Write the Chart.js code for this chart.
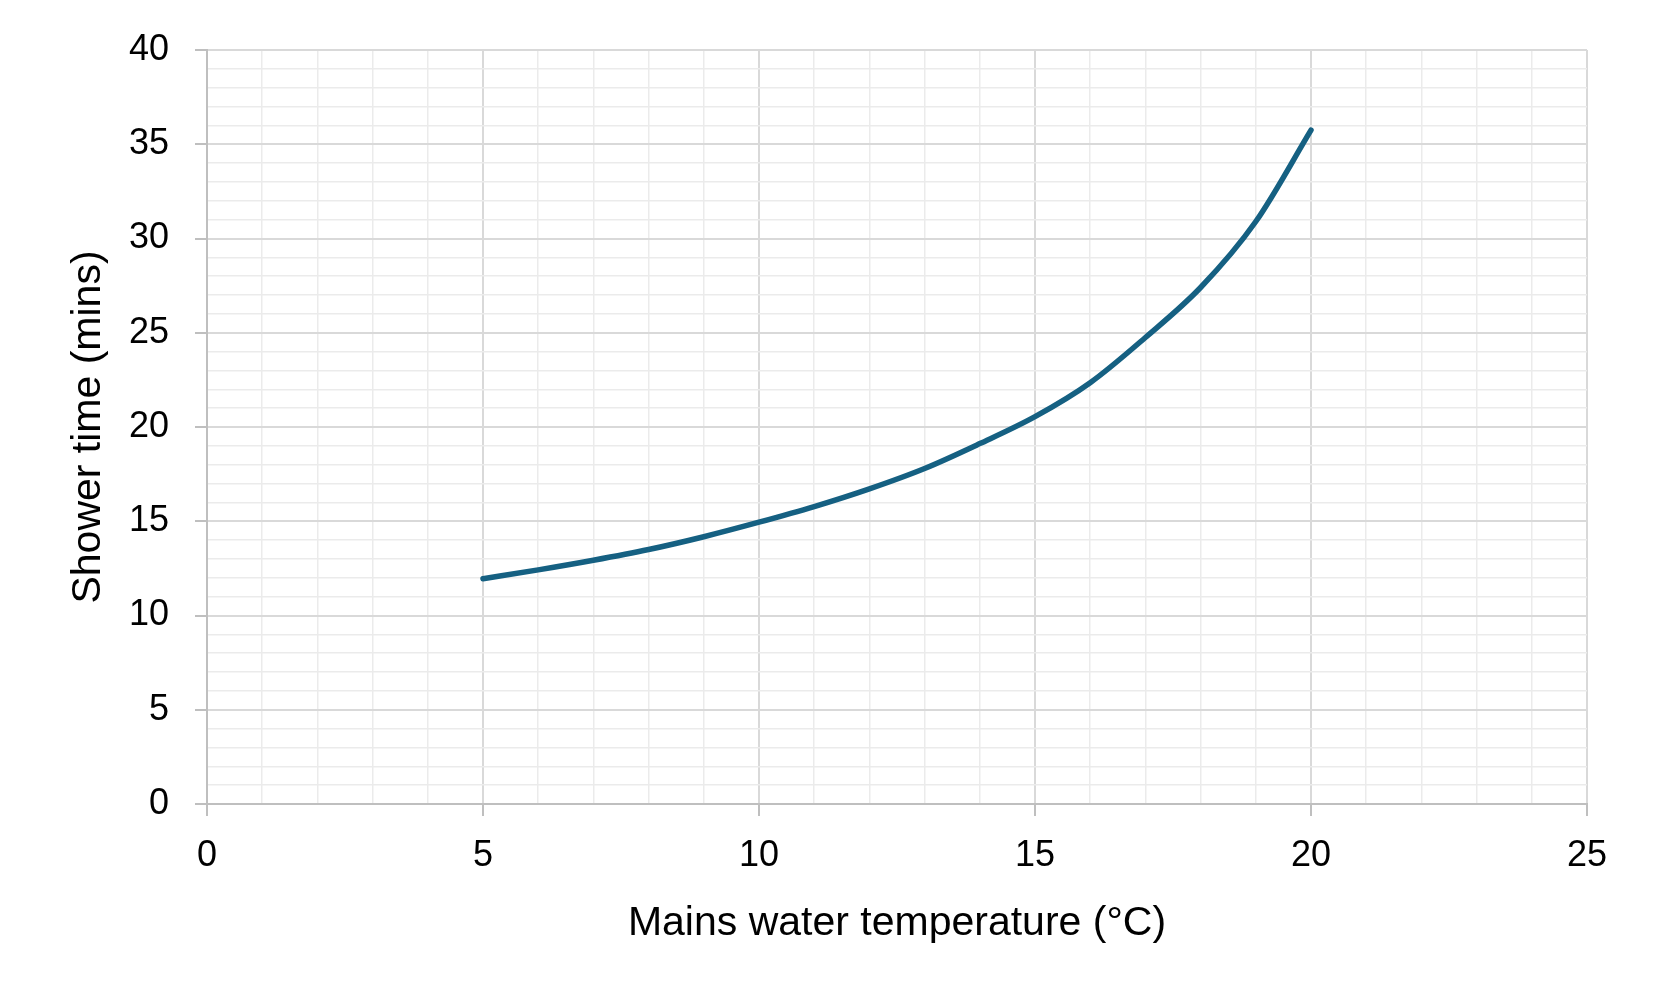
<!DOCTYPE html>
<html>
<head>
<meta charset="utf-8">
<script src="https://cdn.jsdelivr.net/npm/chart.js@4"></script>
<style>
  body { margin: 0; background: #fff; }
  canvas { display: block; }
</style>
</head>
<body>
<canvas id="chart" width="1657" height="1007"></canvas>
<script>
// Shower time vs mains water temperature
const temps = [5, 6, 7, 8, 9, 10, 11, 12, 13, 14, 15, 16, 17, 18, 19, 20];
const showerTimes = [11.95, 12.42, 12.93, 13.5, 14.18, 14.95, 15.78, 16.72, 17.8, 19.12, 20.55, 22.35, 24.75, 27.4, 30.9, 35.75];
const xTicks = [0, 5, 10, 15, 20, 25];
const yTicks = [0, 5, 10, 15, 20, 25, 30, 35, 40];

const majorGrid = '#d9d9d9';
const minorGrid = '#ebebeb';
const axisColor = '#bfbfbf';
const fontFamily = '"Liberation Sans", Arial, sans-serif';

const points = temps.map((t, i) => ({ x: t, y: showerTimes[i] }));

function gridColor(ticks) {
  return ctx => ticks.includes(ctx.tick.value) ? majorGrid : minorGrid;
}
function tickMarkColor(ticks) {
  return ctx => ticks.includes(ctx.tick.value) ? axisColor : 'rgba(0,0,0,0)';
}

const ctx = document.getElementById('chart').getContext('2d');
const chart = new Chart(ctx, {
  type: 'line',
  data: {
    datasets: [{
      data: points,
      borderColor: '#156082',
      borderWidth: 5.5,
      borderCapStyle: 'round',
      cubicInterpolationMode: 'monotone',
      pointRadius: 0,
      fill: false
    }]
  },
  options: {
    responsive: false,
    animation: false,
    layout: {
      padding: { top: 50, right: 70, left: 0, bottom: 59 }
    },
    plugins: {
      legend: { display: false },
      tooltip: { enabled: false }
    },
    scales: {
      x: {
        type: 'linear',
        min: 0,
        max: 25,
        afterFit: scale => { scale.height = 144; },
        ticks: {
          stepSize: 1,
          autoSkip: false,
          maxRotation: 0,
          padding: 18,
          color: '#000',
          font: { family: fontFamily, size: 36 },
          callback: v => xTicks.includes(v) ? v : ''
        },
        grid: {
          color: gridColor(xTicks),
          lineWidth: ctx => xTicks.includes(ctx.tick.value) ? 2 : 1.5,
          tickLength: 12,
          tickColor: tickMarkColor(xTicks),
          tickWidth: 2
        },
        border: { color: axisColor, width: 2 },
        title: {
          display: true,
          text: 'Mains water temperature (°C)',
          color: '#000',
          font: { family: fontFamily, size: 41 },
          padding: { top: 0, bottom: 0 }
        }
      },
      y: {
        min: 0,
        max: 40,
        afterFit: scale => { scale.width = 207; },
        ticks: {
          stepSize: 1,
          autoSkip: false,
          padding: 26,
          color: '#000',
          font: { family: fontFamily, size: 36 },
          callback: v => yTicks.includes(v) ? v : ''
        },
        grid: {
          color: gridColor(yTicks),
          lineWidth: ctx => yTicks.includes(ctx.tick.value) ? 2 : 1.5,
          tickLength: 12,
          tickColor: tickMarkColor(yTicks),
          tickWidth: 2
        },
        border: { color: axisColor, width: 2 },
        title: {
          display: true,
          text: 'Shower time (mins)',
          color: '#000',
          font: { family: fontFamily, size: 41 },
          padding: { top: 64, bottom: 0 }
        }
      }
    }
  }
});
</script>
</body>
</html>
